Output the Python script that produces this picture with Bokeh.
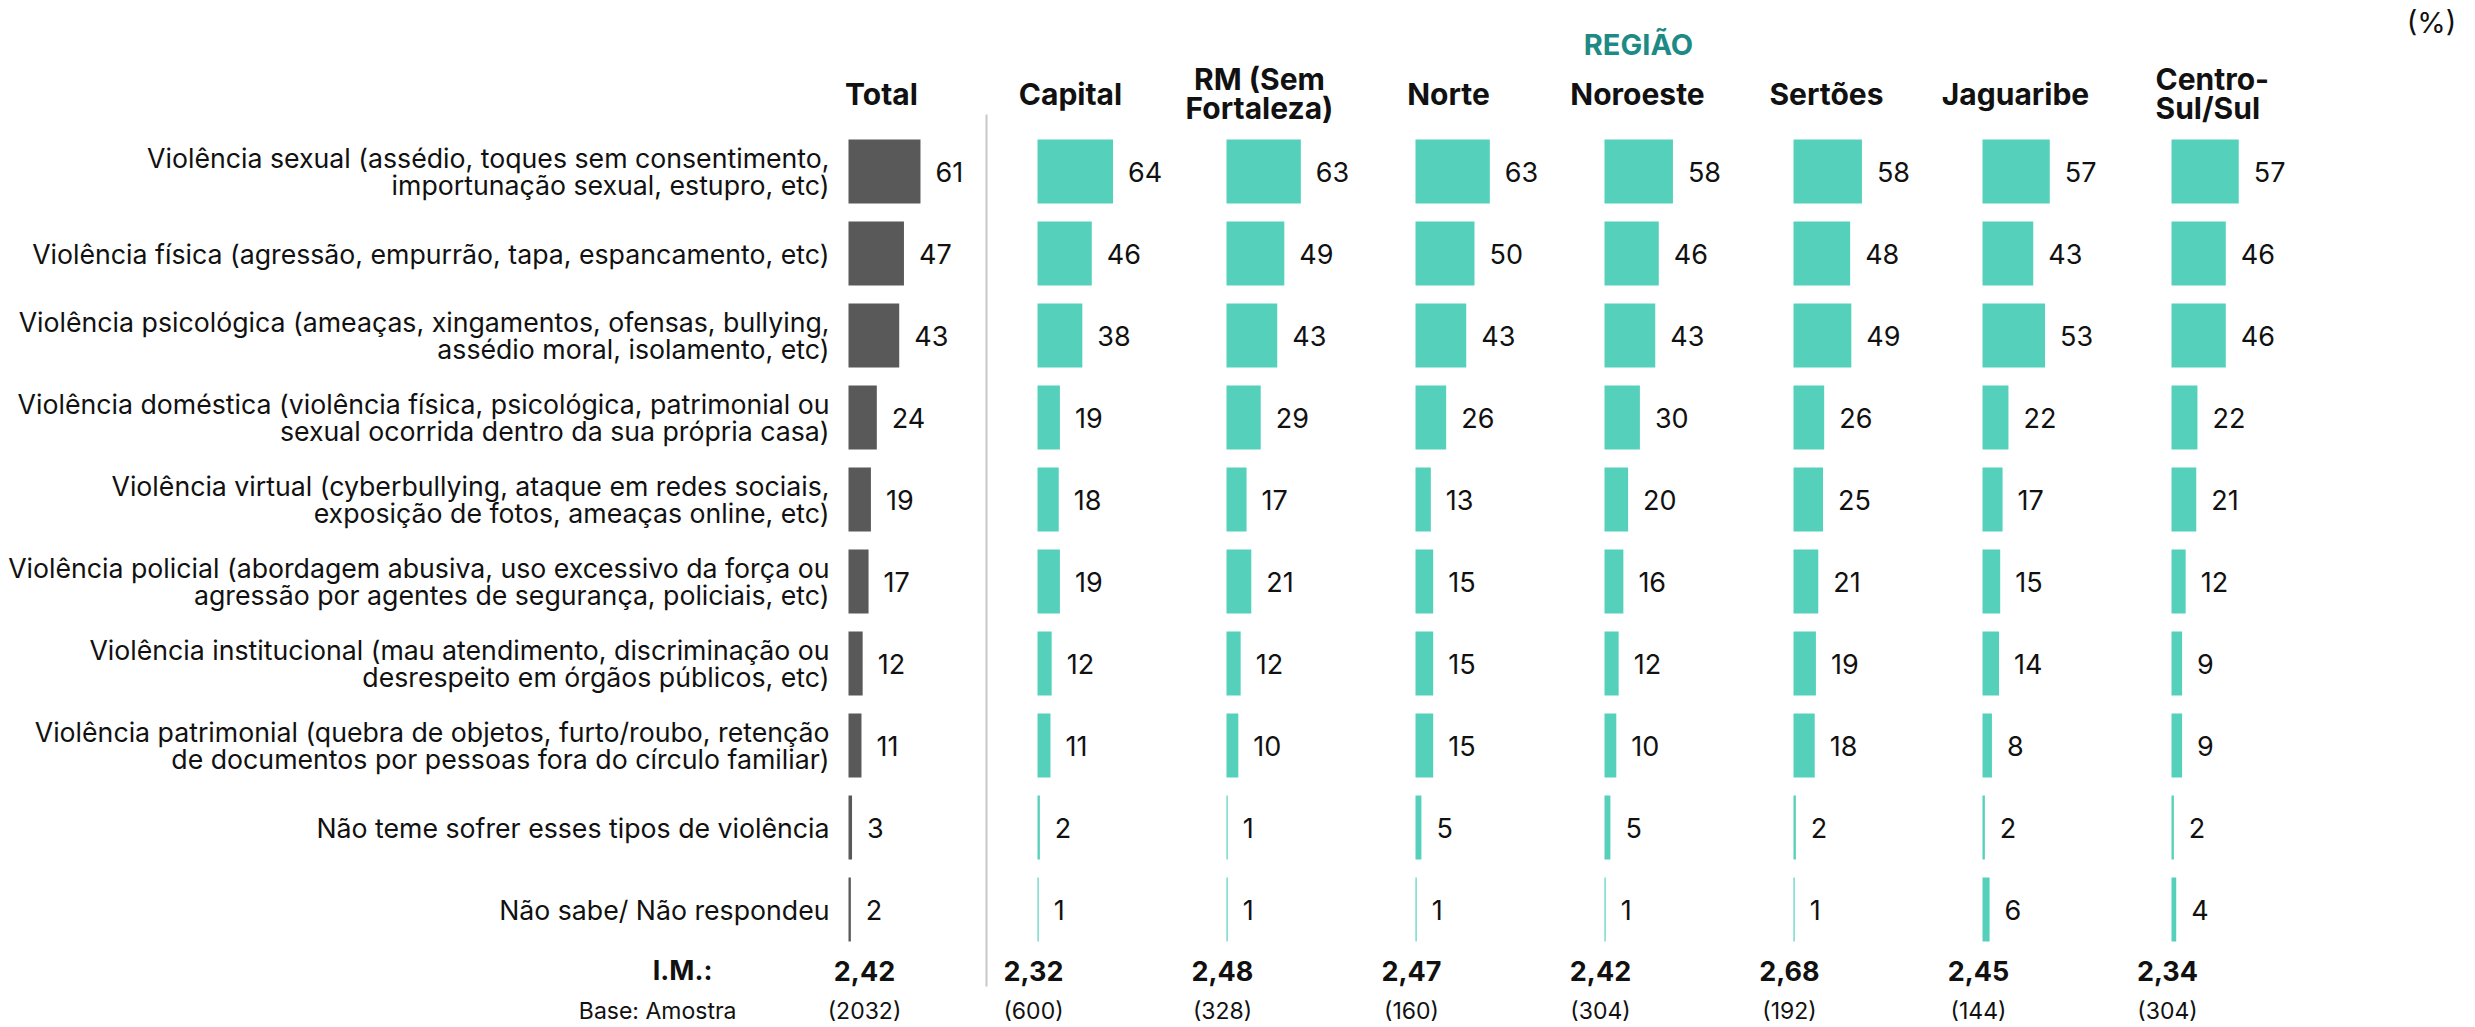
from bokeh.plotting import figure
from bokeh.models import Range1d, ColumnDataSource
from bokeh.core.properties import value
from bokeh.embed import file_html
from bokeh.resources import INLINE

# ---- data -----------------------------------------------------------------
categories = [
    "Violência sexual (assédio, toques sem consentimento,\nimportunação sexual, estupro, etc)",
    "Violência física (agressão, empurrão, tapa, espancamento, etc)",
    "Violência psicológica (ameaças, xingamentos, ofensas, bullying,\nassédio moral, isolamento, etc)",
    "Violência doméstica (violência física, psicológica, patrimonial ou\nsexual ocorrida dentro da sua própria casa)",
    "Violência virtual (cyberbullying, ataque em redes sociais,\nexposição de fotos, ameaças online, etc)",
    "Violência policial (abordagem abusiva, uso excessivo da força ou\nagressão por agentes de segurança, policiais, etc)",
    "Violência institucional (mau atendimento, discriminação ou\ndesrespeito em órgãos públicos, etc)",
    "Violência patrimonial (quebra de objetos, furto/roubo, retenção\nde documentos por pessoas fora do círculo familiar)",
    "Não teme sofrer esses tipos de violência",
    "Não sabe/ Não respondeu",
]

groups = ["Total", "Capital", "RM (Sem\nFortaleza)", "Norte", "Noroeste",
          "Sertões", "Jaguaribe", "Centro-\nSul/Sul"]

total = [61, 47, 43, 24, 19, 17, 12, 11, 3, 2]
capital = [64, 46, 38, 19, 18, 19, 12, 11, 2, 1]
rm_sem_fortaleza = [63, 49, 43, 29, 17, 21, 12, 10, 1, 1]
norte = [63, 50, 43, 26, 13, 15, 15, 15, 5, 1]
noroeste = [58, 46, 43, 30, 20, 16, 12, 10, 5, 1]
sertoes = [58, 48, 49, 26, 25, 21, 19, 18, 2, 1]
jaguaribe = [57, 43, 53, 22, 17, 15, 14, 8, 2, 6]
centro_sul = [57, 46, 46, 22, 21, 12, 9, 9, 2, 4]

indice_medio = ["2,42", "2,32", "2,48", "2,47", "2,42", "2,68", "2,45", "2,34"]
base_amostra = ["(2032)", "(600)", "(328)", "(160)", "(304)", "(192)", "(144)", "(304)"]

series = [total, capital, rm_sem_fortaleza, norte, noroeste, sertoes, jaguaribe, centro_sul]

# ---- layout ---------------------------------------------------------------
W, H = 2475, 1027
PX = 1.18            # pixels per percentage point
ROW_PX = 82          # pixels per category row
ROW0 = 171           # pixel centre of the first row
COL0 = 848           # pixel left of the first column of bars
COL_STEP = 189       # pixel distance between columns

FONT = value("Inter")
DARK = "#595959"
TEAL = "#55D1BB"
TEAL_DARK = "#1E8A85"
INK = "#111111"


def ux(px):
    return px / PX


def uy(py):
    return (py - ROW0) / ROW_PX


p = figure(width=W, height=H, output_backend="svg", toolbar_location=None,
           x_range=Range1d(0, ux(W)), y_range=Range1d(uy(H), uy(0)),
           min_border=0, outline_line_color=None,
           background_fill_color="white", border_fill_color="white")
p.axis.visible = False
p.grid.visible = False

rows = list(range(len(categories)))

# column divider between Total and the regions
p.segment(x0=[ux(986)], x1=[ux(986)], y0=[uy(114)], y1=[uy(986)],
          line_color="#C8C8C8", line_width=2)

for i, vals in enumerate(series):
    left = ux(COL0 + COL_STEP * i)
    src = ColumnDataSource(dict(
        y=rows,
        left=[left] * len(vals),
        right=[left + v for v in vals],
        label=[str(v) for v in vals],
    ))
    p.hbar(y="y", left="left", right="right", height=64 / ROW_PX,
           source=src, fill_color=DARK if i == 0 else TEAL, line_color=None)
    p.text(x="right", y="y", text="label", source=src, x_offset=15,
           text_font=FONT, text_font_size="27px", text_color=INK,
           text_align="left", text_baseline="middle")

    # column header (the last one is set flush left)
    if i == len(series) - 1:
        hx, halign = left - ux(16), "left"
    else:
        hx, halign = left + ux(33), "center"
    p.text(x=[hx], y=[uy(93)], text=[groups[i]],
           text_font=FONT, text_font_size="30px", text_font_style="bold",
           text_color=INK, text_align=halign, text_baseline="middle",
           text_line_height=0.82)

    # mean index and sample size
    off = 16 if i == 0 else -4
    p.text(x=[left + ux(off)], y=[uy(970)], text=[indice_medio[i]],
           text_font=FONT, text_font_size="27px", text_font_style="bold",
           text_color=INK, text_align="center", text_baseline="middle")
    p.text(x=[left + ux(off)], y=[uy(1010)], text=[base_amostra[i]],
           text_font=FONT, text_font_size="23px",
           text_color=INK, text_align="center", text_baseline="middle")

# category labels
p.text(x=[ux(829)] * len(categories), y=rows, text=categories,
       text_font=FONT, text_font_size="26.7px", text_color=INK,
       text_align="right", text_baseline="middle", text_line_height=0.84)

p.text(x=[ux(712)], y=[uy(970)], text=["I.M.:"], text_font=FONT,
       text_font_size="27px", text_font_style="bold", text_color=INK,
       text_align="right", text_baseline="middle")
p.text(x=[ux(736)], y=[uy(1010)], text=["Base: Amostra"], text_font=FONT,
       text_font_size="23px", text_color=INK,
       text_align="right", text_baseline="middle")

p.text(x=[ux(1638)], y=[uy(44)], text=["REGIÃO"], text_font=FONT,
       text_font_size="29px", text_font_style="bold", text_color=TEAL_DARK,
       text_align="center", text_baseline="middle")
p.text(x=[ux(2431)], y=[uy(22)], text=["(%)"], text_font=FONT,
       text_font_size="29px", text_color=INK,
       text_align="center", text_baseline="middle")

open("out.html", "w").write(file_html(p, INLINE))
